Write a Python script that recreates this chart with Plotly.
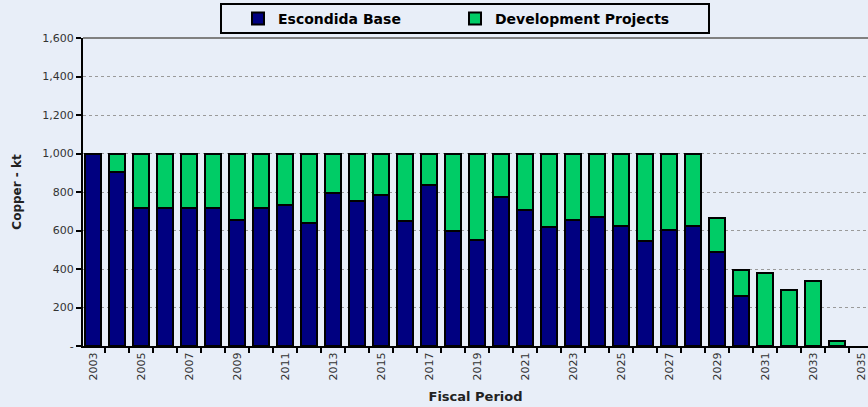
import plotly.graph_objects as go

years = list(range(2003, 2036))
escondida_base = [1000, 905, 718, 718, 718, 718, 656, 718, 730, 637, 793, 751, 783, 647, 837, 595,
                  553, 772, 708, 616, 657, 668, 624, 543, 605, 624, 489, 261, None, None, None, None, None]
development = [None, 95, 282, 282, 282, 282, 344, 282, 270, 363, 207, 249, 217, 353, 163, 405,
               447, 228, 292, 384, 343, 332, 376, 457, 395, 376, 177, 134, 381, 290, 339, 26, None]
y_ticks = [0, 200, 400, 600, 800, 1000, 1200, 1400, 1600]
y_ticktext = ["-", "200", "400", "600", "800", "1,000", "1,200", "1,400", "1,600"]
x_ticks = years[::2]

BG = "#E8EEF8"
FONT = "DejaVu Sans"

fig = go.Figure()
fig.add_trace(go.Bar(x=years, y=escondida_base, name="<b>Escondida Base</b>",
                     marker=dict(color="#000080", line=dict(color="black", width=2)), width=0.66))
fig.add_trace(go.Bar(x=years, y=development, name="<b>Development Projects</b>",
                     marker=dict(color="#00CC66", line=dict(color="black", width=2)), width=0.66))

fig.update_layout(
    width=868, height=407,
    barmode="stack",
    paper_bgcolor=BG, plot_bgcolor=BG,
    margin=dict(l=83, r=0, t=38, b=61, autoexpand=False),
    font=dict(family=FONT, color="#333333"),
    legend=dict(orientation="h", traceorder="normal",
                x=(238 - 83) / 785, y=(346 - 19) / 308, xanchor="left", yanchor="middle",
                bgcolor="rgba(0,0,0,0)", font=dict(size=14, color="black", family=FONT),
                entrywidth=172, entrywidthmode="pixels", itemwidth=30),
    xaxis=dict(range=[2002.58, 2035.29], tickvals=x_ticks, ticktext=[str(v) for v in x_ticks],
               tickangle=-90, tickfont=dict(size=11, color="#333333"), ticks="",
               showline=True, linecolor="black", linewidth=2, showgrid=False, zeroline=False,
               automargin=False,
               minor=dict(tick0=2002.5, dtick=1, ticks="outside", ticklen=5, tickwidth=2, tickcolor="black"),
               title=dict(text="<b>Fiscal Period</b>", font=dict(size=13, color="#222222"), standoff=12)),
    yaxis=dict(range=[0, 1600], tickvals=y_ticks, ticktext=y_ticktext, automargin=False,
               tickfont=dict(size=11, color="#333333"), ticks="outside", ticklen=5, tickwidth=2,
               tickcolor="black", showline=True, linecolor="black", linewidth=2,
               showgrid=True, gridcolor="#9a9a9a", griddash="dot", gridwidth=1, zeroline=False,
               title=dict(text="<b>Copper - kt</b>", font=dict(size=12, color="#222222"), standoff=18)),
    shapes=[
        dict(type="line", xref="paper", yref="paper", x0=0, x1=1, y0=1, y1=1,
             line=dict(color="#808080", width=2)),
        dict(type="rect", xref="paper", yref="paper",
             x0=(221 - 83) / 785, x1=(709 - 83) / 785, y0=(346 - 33) / 308, y1=(346 - 4) / 308,
             line=dict(color="black", width=2), fillcolor="rgba(0,0,0,0)"),
    ],
)

fig.write_html("out.html", config={"displayModeBar": False},
               post_script="document.body.style.margin='0';document.body.style.background='%s';" % BG)
